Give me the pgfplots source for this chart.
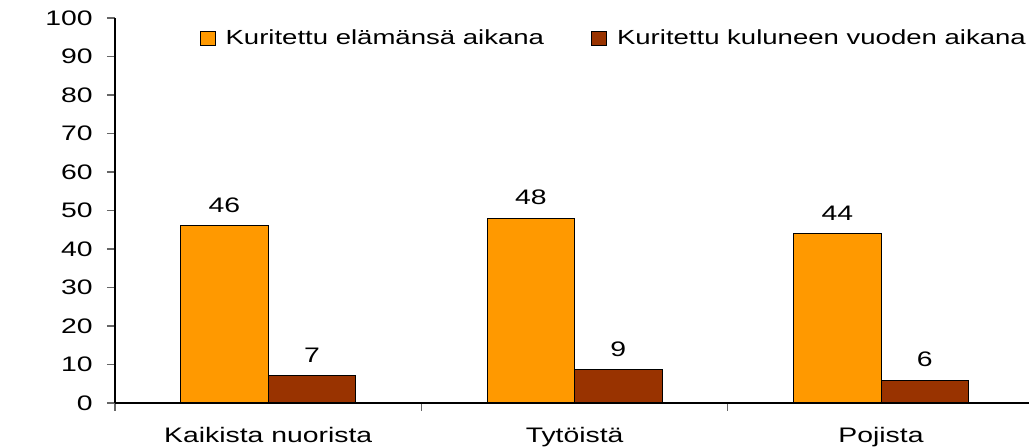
\documentclass[border=0pt]{standalone}
\usepackage{fontspec}
\setmainfont{Liberation Sans}[FakeStretch=1.35]
\usepackage{pgfplots}
\pgfplotsset{compat=1.18}
\definecolor{elama}{HTML}{FF9900}
\definecolor{vuosi}{HTML}{993300}

\begin{document}
\begin{tikzpicture}[font=\fontsize{10.5pt}{12.6pt}\selectfont]
\begin{axis}[
  scale only axis,
  width=457pt, height=192.5pt,
  xmin=-0.5, xmax=2.483,
  ymin=0, ymax=100,
  ybar=0pt, bar width=0.2855,
  axis x line*=bottom, axis y line*=left,
  axis line style={-, black, line width=0.6pt},
  tick align=outside,
  major tick length=4pt,
  tick style={black!60, line width=0.6pt},
  ytick={0,10,...,100},
  xtick={-0.5,0.5,1.5},
  xticklabels={},
  extra x ticks={0,1,2},
  extra x tick labels={Kaikista nuorista,Tytöistä,Pojista},
  extra x tick style={major tick length=0pt,
    tick label style={anchor=north, inner sep=0pt, yshift=-12pt}},
  yticklabel style={anchor=east, inner sep=0pt, xshift=-7pt},
  /pgf/number format/assume math mode=true,
  nodes near coords={\pgfmathprintnumber[fixed,precision=0]{\pgfplotspointmeta}},
  every node near coord/.append style={anchor=south, inner sep=0pt, yshift=6.5pt, black},
  legend columns=2,
  legend style={at={(0.997,0.946)}, anchor=east, draw=none, fill=none,
    inner sep=0pt, font=\fontsize{10.2pt}{12pt}\selectfont,
    nodes={inner sep=0pt},
    /tikz/every odd column/.append style={column sep=5pt},
    /tikz/every even column/.append style={column sep=23.5pt}},
  legend cell align=left,
]
\addplot[fill=elama, draw=black, line width=0.5pt,
  legend image code/.code={\draw[fill=elama,draw=black,line width=0.5pt] (0pt,-3.6pt) rectangle (7.5pt,3.6pt);}]
  coordinates {(0,46) (1,48) (2,43.9)};
\addplot[fill=vuosi, draw=black, line width=0.5pt,
  legend image code/.code={\draw[fill=vuosi,draw=black,line width=0.5pt] (0pt,-3.6pt) rectangle (7.5pt,3.6pt);}]
  coordinates {(0,7.1) (1,8.6) (2,5.9)};
\legend{Kuritettu elämänsä aikana, Kuritettu kuluneen vuoden aikana}
\coordinate (sw) at (rel axis cs:0,0);
\node at (rel axis cs:0,0.485) [xshift=-41.5pt] {\%};
\end{axis}
\pgfresetboundingbox
\path (sw) ++(-57.5pt,-22.5pt) rectangle ++(514.5pt,224pt);
\end{tikzpicture}
\end{document}
